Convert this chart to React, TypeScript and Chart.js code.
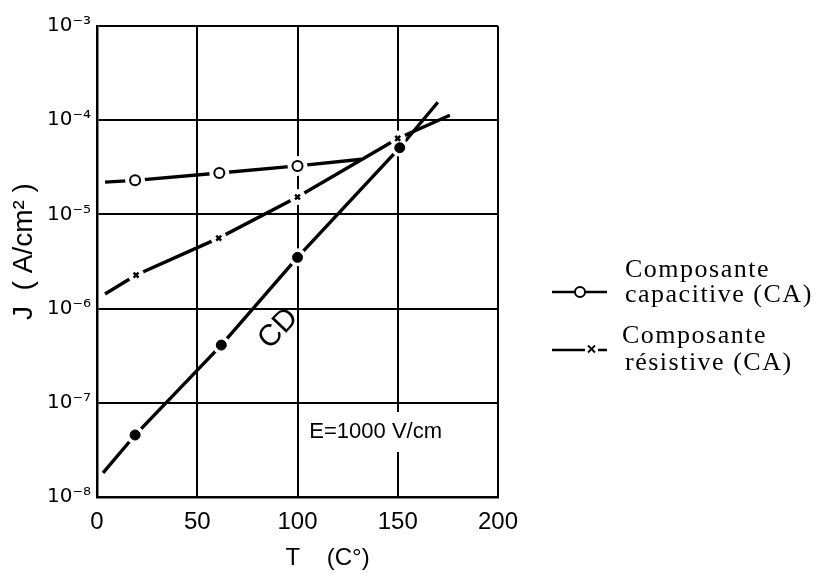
import React, { useEffect, useRef } from 'react';
import { Chart, registerables } from 'chart.js';

Chart.register(...registerables);

// ---- data ----
// Composante capacitive (CA): markers (o) and drawn line
const capT = [19, 61, 100];
const capJ = [2.3e-5, 2.75e-5, 3.27e-5];
const capLineT = [4, 19, 61, 100, 132];
const capLineJ = [2.2e-5, 2.3e-5, 2.75e-5, 3.27e-5, 3.85e-5];

// Composante résistive (CA): markers (x) and drawn line
const resT = [19.5, 60.7, 100, 150];
const resJ = [2.27e-6, 5.6e-6, 1.53e-5, 6.4e-5];
const resLineT = [4, 19.5, 60.7, 100, 150, 176];
const resLineJ = [1.43e-6, 2.27e-6, 5.6e-6, 1.53e-5, 6.4e-5, 1.13e-4];

// CD: markers (filled dots) and drawn line
const cdT = [19, 62, 100, 151];
const cdJ = [4.55e-8, 4.1e-7, 3.5e-6, 5.1e-5];
const cdLineT = [3, 19, 62, 100, 151, 170];
const cdLineJ = [1.8e-8, 4.55e-8, 4.1e-7, 3.5e-6, 5.1e-5, 1.55e-4];

// axes
const xTickValues = [0, 50, 100, 150, 200];
const yDecades = [-8, -7, -6, -5, -4, -3];

// texts
const xTitle = 'T    (C°)';
const yTitle = 'J  ( A/cm² )';
const legendCap = ['Composante', 'capacitive (CA)'];
const legendRes = ['Composante', 'résistive (CA)'];
const cdLabel = 'CD';
const fieldLabel = 'E=1000 V/cm';
// anchors of the in-plot labels, in data units
const cdLabelAt = { x: 90.5, y: 6.1e-7 };
const fieldLabelAt = { x: 139, y: 4.9e-8 };

const SANS = '"Liberation Sans", "DejaVu Sans", Arial, sans-serif';
const DEJAVU = '"DejaVu Sans", "Liberation Sans", sans-serif';
const SERIF = '"Liberation Serif", "DejaVu Serif", "Times New Roman", serif';

const SUP: Record<string, string> = {
  '-': '⁻', '0': '⁰', '1': '¹', '2': '²', '3': '³', '4': '⁴',
  '5': '⁵', '6': '⁶', '7': '⁷', '8': '⁸', '9': '⁹',
};
const sup = (s: string) => s.split('').map((c) => SUP[c] ?? c).join('');

const pts = (xs: number[], ys: number[]) => xs.map((x, i) => ({ x, y: ys[i] }));

function drawCross(ctx: CanvasRenderingContext2D, cx: number, cy: number, r: number) {
  ctx.beginPath();
  ctx.moveTo(cx - r, cy - r);
  ctx.lineTo(cx + r, cy + r);
  ctx.moveTo(cx + r, cy - r);
  ctx.lineTo(cx - r, cy + r);
  ctx.stroke();
}

export default function App() {
  const ref = useRef<HTMLCanvasElement>(null);

  useEffect(() => {
    const canvas = ref.current;
    if (!canvas) return;

    const annotations = {
      id: 'annotations',
      afterDraw(chart: any) {
        const { ctx, chartArea: a, scales } = chart;
        const x = scales.x;
        const y = scales.y;
        ctx.save();
        ctx.fillStyle = '#000';
        ctx.strokeStyle = '#000';

        // y axis title
        ctx.save();
        ctx.font = `28px ${SANS}`;
        ctx.textAlign = 'center';
        ctx.textBaseline = 'middle';
        ctx.translate(24, (a.top + a.bottom) / 2 - 10);
        ctx.rotate(-Math.PI / 2);
        ctx.fillText(yTitle, 0, 0);
        ctx.restore();

        // x axis title
        ctx.font = `24px ${SANS}`;
        ctx.textAlign = 'center';
        ctx.textBaseline = 'middle';
        ctx.fillText(xTitle, (a.left + a.right) / 2 + 30, a.bottom + 61);

        // CD label, rotated along the CD line
        const ang = Math.atan2(
          y.getPixelForValue(cdJ[3]) - y.getPixelForValue(cdJ[2]),
          x.getPixelForValue(cdT[3]) - x.getPixelForValue(cdT[2])
        );
        ctx.save();
        ctx.translate(x.getPixelForValue(cdLabelAt.x), y.getPixelForValue(cdLabelAt.y));
        ctx.rotate(ang);
        ctx.font = `30px ${SANS}`;
        ctx.textAlign = 'center';
        ctx.textBaseline = 'middle';
        ctx.fillText(cdLabel, 0, 0);
        ctx.restore();

        // E = 1000 V/cm label with white background
        ctx.font = `22px ${SANS}`;
        const fx = x.getPixelForValue(fieldLabelAt.x);
        const fy = y.getPixelForValue(fieldLabelAt.y);
        const w = ctx.measureText(fieldLabel).width;
        ctx.fillStyle = '#fff';
        ctx.fillRect(fx - w / 2 - 3, fy - 20, w + 6, 40);
        ctx.fillStyle = '#000';
        ctx.textAlign = 'center';
        ctx.textBaseline = 'middle';
        ctx.fillText(fieldLabel, fx, fy);

        // legend
        const lx = a.right + 54;
        ctx.lineWidth = 2.5;
        // capacitive entry
        let ly = 292;
        ctx.beginPath();
        ctx.moveTo(lx, ly);
        ctx.lineTo(lx + 55, ly);
        ctx.stroke();
        ctx.beginPath();
        ctx.arc(lx + 28, ly, 5, 0, Math.PI * 2);
        ctx.fillStyle = '#fff';
        ctx.fill();
        ctx.lineWidth = 2;
        ctx.stroke();
        ctx.fillStyle = '#000';
        ctx.font = `26px ${SERIF}`;
        (ctx as any).letterSpacing = '1.5px';
        ctx.textAlign = 'left';
        ctx.textBaseline = 'alphabetic';
        ctx.fillText(legendCap[0], lx + 73, 277);
        ctx.fillText(legendCap[1], lx + 73, 302);
        // resistive entry
        ly = 350;
        ctx.lineWidth = 2.5;
        ctx.beginPath();
        ctx.moveTo(lx, ly);
        ctx.lineTo(lx + 33, ly);
        ctx.moveTo(lx + 46, ly);
        ctx.lineTo(lx + 55, ly);
        ctx.stroke();
        ctx.lineWidth = 1.8;
        drawCross(ctx, lx + 39.5, ly - 1, 3.5);
        ctx.fillText(legendRes[0], lx + 70, 343);
        ctx.fillText(legendRes[1], lx + 73, 370);
        ctx.restore();
      },
    };

    const lineDs = (xs: number[], ys: number[]) => ({
      data: pts(xs, ys),
      borderColor: '#000',
      borderWidth: 3.4,
      pointRadius: 0,
      showLine: true,
      fill: false,
      tension: 0,
      order: 3,
    });
    const haloDs = (xs: number[], ys: number[], r: number) => ({
      data: pts(xs, ys),
      showLine: false,
      pointRadius: r,
      pointBackgroundColor: '#fff',
      pointBorderWidth: 0,
      pointBorderColor: '#fff',
      order: 2,
    });

    const chart = new Chart(canvas, {
      type: 'line',
      data: {
        datasets: [
          lineDs(capLineT, capLineJ),
          lineDs(resLineT, resLineJ),
          lineDs(cdLineT, cdLineJ),
          haloDs(capT, capJ, 10),
          haloDs(resT, resJ, 8),
          haloDs(cdT, cdJ, 9),
          {
            label: 'Composante capacitive (CA)',
            data: pts(capT, capJ),
            showLine: false,
            pointStyle: 'circle',
            pointRadius: 5,
            pointBackgroundColor: '#fff',
            pointBorderColor: '#000',
            pointBorderWidth: 2,
            order: 1,
          },
          {
            label: 'Composante résistive (CA)',
            data: pts(resT, resJ),
            showLine: false,
            pointStyle: 'crossRot',
            pointRadius: 3.5,
            pointBorderColor: '#000',
            pointBorderWidth: 2.5,
            order: 1,
          },
          {
            label: 'CD',
            data: pts(cdT, cdJ),
            showLine: false,
            pointStyle: 'circle',
            pointRadius: 5,
            pointBackgroundColor: '#000',
            pointBorderColor: '#000',
            pointBorderWidth: 1,
            order: 1,
          },
        ] as any,
      },
      options: {
        responsive: false,
        animation: false,
        devicePixelRatio: 1,
        layout: { padding: { top: 26, right: 333, left: 0, bottom: 0 } },
        plugins: {
          legend: { display: false },
          tooltip: { enabled: false },
          title: { display: false },
        },
        scales: {
          x: {
            type: 'linear',
            min: 0,
            max: 200,
            afterBuildTicks: (s: any) => {
              s.ticks = xTickValues.map((v) => ({ value: v }));
            },
            afterFit: (s: any) => {
              s.height = 84;
            },
            ticks: {
              color: '#000',
              font: { family: SANS, size: 24 },
              padding: 11,
              maxRotation: 0,
              callback: (v: any) => String(v),
            },
            grid: { color: '#000', lineWidth: 2, drawTicks: false },
            border: { display: true, color: '#000', width: 2.5 },
          },
          y: {
            type: 'logarithmic',
            min: Math.pow(10, yDecades[0]),
            max: Math.pow(10, yDecades[yDecades.length - 1]),
            afterBuildTicks: (s: any) => {
              s.ticks = yDecades.map((d) => ({ value: Math.pow(10, d) }));
            },
            afterFit: (s: any) => {
              s.width = 97;
            },
            ticks: {
              color: '#000',
              font: { family: DEJAVU, size: 20 },
              padding: 6,
              callback: (v: any) => '10' + sup(String(Math.round(Math.log10(Number(v))))),
            },
            grid: { color: '#000', lineWidth: 2, drawTicks: false },
            border: { display: true, color: '#000', width: 2.5 },
          },
        },
      } as any,
      plugins: [annotations],
    });

    return () => chart.destroy();
  }, []);

  return (
    <div style={{ position: 'absolute', left: 0, top: 0, width: 831, height: 581, background: '#fff' }}>
      <canvas ref={ref} width={831} height={581} />
    </div>
  );
}
